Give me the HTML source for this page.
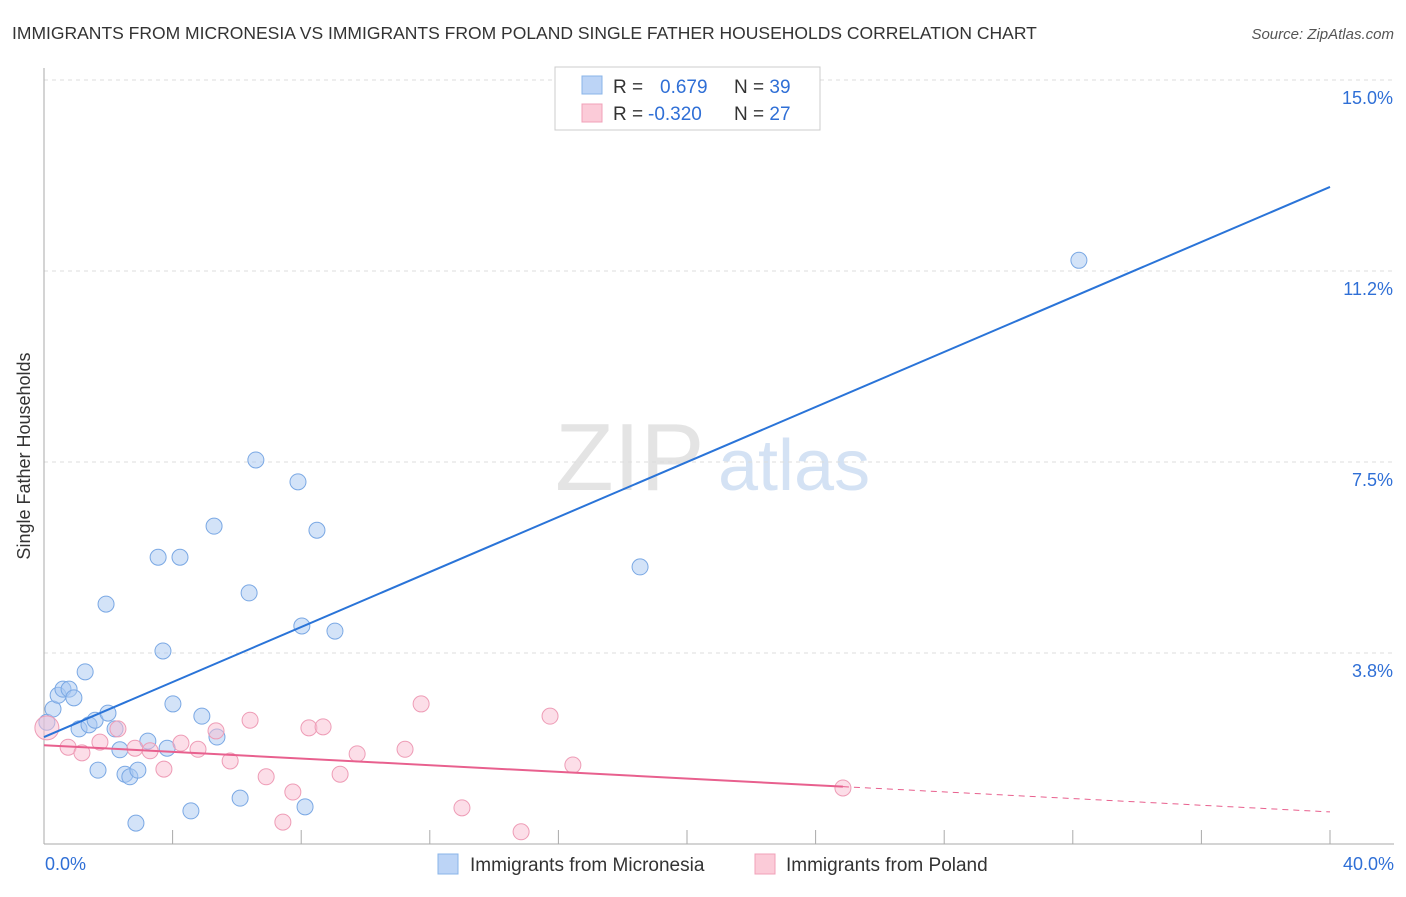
<!DOCTYPE html>
<html><head><meta charset="utf-8"><style>
body{margin:0;background:#fff;font-family:"Liberation Sans",sans-serif;}
svg text{font-family:"Liberation Sans",sans-serif;}
</style></head><body>
<svg id="chart" width="1406" height="892" viewBox="0 0 1406 892">
<text x="12" y="39" font-size="17.5" fill="#333">IMMIGRANTS FROM MICRONESIA VS IMMIGRANTS FROM POLAND SINGLE FATHER HOUSEHOLDS CORRELATION CHART</text>
<text x="1394" y="39" font-size="15" fill="#555" font-style="italic" text-anchor="end">Source: ZipAtlas.com</text>
<text x="30" y="456" font-size="18" fill="#333" text-anchor="middle" transform="rotate(-90 30 456)">Single Father Households</text>
<g><text x="555" y="490" font-size="96" fill="#e4e4e4" font-family="Liberation Serif">ZIP</text><text x="718" y="490" font-size="72" fill="#d4e2f4">atlas</text></g>
<g id="grid"></g><g id="pts"></g><g id="lines"></g>
<g>
<rect x="555" y="67" width="265" height="63" fill="#fff" stroke="#ccc"/>
<rect x="582" y="76" width="20" height="18" fill="#bcd4f6" stroke="#8ab4e8"/>
<rect x="582" y="104" width="20" height="18" fill="#fbcbd8" stroke="#f0a0b8"/>
<text x="613" y="93" font-size="19" fill="#333">R = <tspan fill="#2f6fd6" x="660">0.679</tspan><tspan fill="#333" x="734">N = </tspan><tspan fill="#2f6fd6">39</tspan></text>
<text x="613" y="120" font-size="19" fill="#333">R = <tspan fill="#2f6fd6" x="648">-0.320</tspan><tspan fill="#333" x="734">N = </tspan><tspan fill="#2f6fd6">27</tspan></text>
</g>
<g>
<rect x="438" y="854" width="20" height="20" fill="#bcd4f6" stroke="#8ab4e8"/>
<text x="470" y="871" font-size="19" fill="#333">Immigrants from Micronesia</text>
<rect x="755" y="854" width="20" height="20" fill="#fbcbd8" stroke="#f0a0b8"/>
<text x="786" y="871" font-size="19" fill="#333">Immigrants from Poland</text>
</g>
<text x="45" y="870" font-size="18" fill="#2f6fd6">0.0%</text>
<text x="1394" y="870" font-size="18" fill="#2f6fd6" text-anchor="end">40.0%</text>
</svg>
<script>
const yTicks=[3.75,7.5,11.25,15];
const yTickLabels=["3.8%","7.5%","11.2%","15.0%"];
const blueX=[0.09,0.28,0.44,0.59,0.78,0.93,1.09,1.28,1.40,1.59,1.68,1.93,1.99,2.21,2.36,2.52,2.67,2.86,2.92,3.23,3.55,3.70,3.83,4.01,4.23,4.57,4.91,5.29,5.38,6.10,6.38,6.59,7.90,8.02,8.12,8.49,9.05,18.54,32.19];
const blueY=[2.39,2.65,2.92,3.04,3.04,2.87,2.26,3.38,2.34,2.43,1.45,4.71,2.57,2.26,1.85,1.37,1.32,0.41,1.45,2.02,5.63,3.79,1.88,2.75,5.63,0.65,2.51,6.24,2.10,0.90,4.93,7.54,7.11,4.28,0.73,6.16,4.18,5.44,11.46];
const pinkX=[0.09,0.75,1.18,1.74,2.30,2.83,3.30,3.73,4.26,4.79,5.35,5.79,6.41,6.91,7.43,7.74,8.24,8.68,9.21,9.74,11.23,11.73,13.00,14.84,15.74,16.45,24.85];
const pinkY=[2.28,1.90,1.79,2.00,2.26,1.88,1.83,1.47,1.98,1.86,2.22,1.63,2.43,1.32,0.43,1.02,2.28,2.30,1.37,1.77,1.86,2.75,0.71,0.24,2.51,1.55,1.10];
const blueLine=[2.10,12.90];
const pinkLine=[1.94,0.63];
const pinkSolidEnd=24.85;
const NS="http://www.w3.org/2000/svg";
const sx=v=>44+v*(1286/40);
const sy=v=>844-v*(191/3.75);
function mk(tag,attrs,parent){const e=document.createElementNS(NS,tag);for(const k in attrs)e.setAttribute(k,attrs[k]);parent.appendChild(e);return e;}
const grid=document.getElementById('grid');
yTicks.forEach((t,i)=>{
  const l=mk('line',{x1:44,x2:1394,y1:sy(t),y2:sy(t),stroke:'#ddd','stroke-dasharray':'4,4'},grid);
  
  
  const tx=mk('text',{x:1393,y:sy(t)+24,'font-size':18,fill:'#2f6fd6','text-anchor':'end'},grid);
  tx.textContent=yTickLabels[i];
  
  
});
const ax=mk('line',{x1:44,x2:44,y1:68,y2:844,stroke:'#aaa'},grid);


const bx=mk('line',{x1:44,x2:1394,y1:844,y2:844,stroke:'#aaa'},grid);


for(let i=1;i<=10;i++){
  const tk=mk('line',{x1:sx(i*4),x2:sx(i*4),y1:830,y2:844,stroke:'#aaa'},grid);
  
  
}
const pts=document.getElementById('pts');
blueX.forEach((x,i)=>{
  const c=mk('circle',{cx:sx(x),cy:sy(blueY[i]),r:8,fill:'rgba(168,200,242,0.5)',stroke:'#7aa8e4','stroke-width':1},pts);
  
  
});
pinkX.forEach((x,i)=>{
  const c=mk('circle',{cx:sx(x),cy:sy(pinkY[i]),r:i===0?12:8,fill:'rgba(250,190,210,0.5)',stroke:'#ee9cb6','stroke-width':1},pts);
  
  
});
const lines=document.getElementById('lines');
const bl=mk('line',{x1:sx(0),y1:sy(blueLine[0]),x2:sx(40),y2:sy(blueLine[1]),stroke:'#2a74d8','stroke-width':2},lines);


const pAt=x=>pinkLine[0]+(pinkLine[1]-pinkLine[0])*x/40;
const pl=mk('line',{x1:sx(0),y1:sy(pinkLine[0]),x2:sx(pinkSolidEnd),y2:sy(pAt(pinkSolidEnd)),stroke:'#e8608e','stroke-width':2},lines);


const pd=mk('line',{x1:sx(pinkSolidEnd),y1:sy(pAt(pinkSolidEnd)),x2:sx(40),y2:sy(pinkLine[1]),stroke:'#e8608e','stroke-width':1,'stroke-dasharray':'6,5'},lines);


</script>
</body></html>
